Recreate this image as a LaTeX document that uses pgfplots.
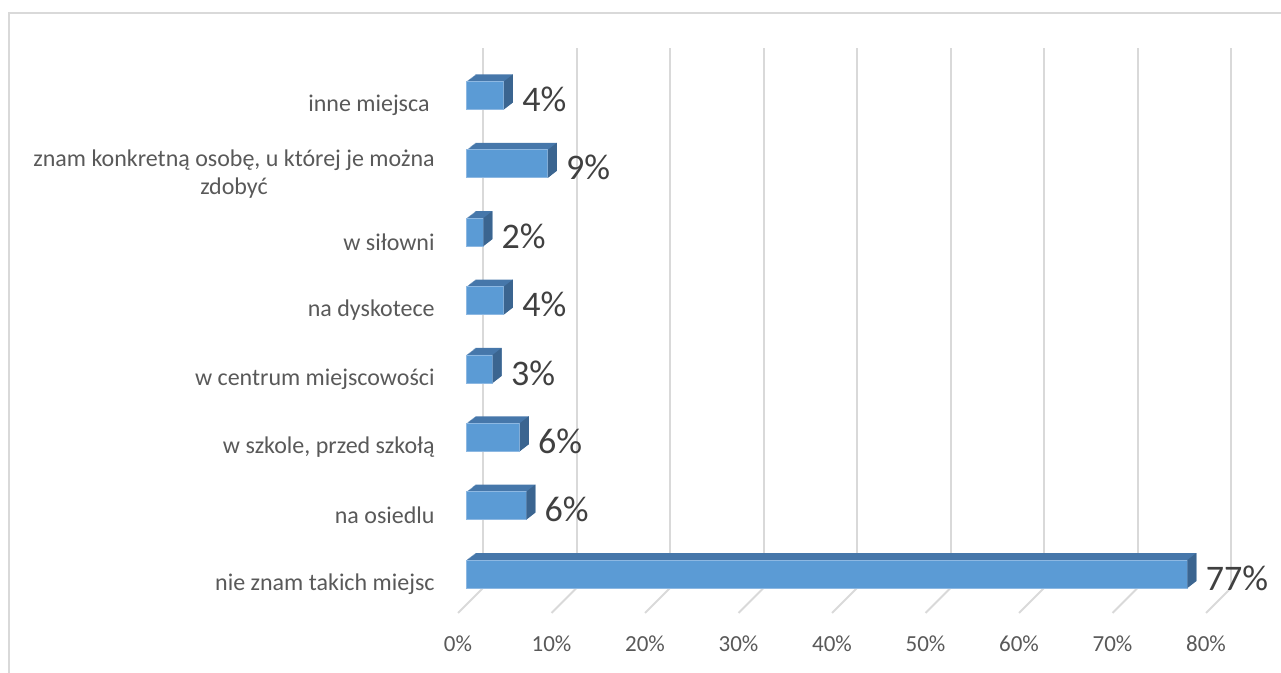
\documentclass[border=0pt]{standalone}
\usepackage{pgfplots}
\pgfplotsset{compat=1.18}
\usepackage{pgfplotstable}
\usepackage{fontspec}
\setmainfont{Carlito}

\definecolor{gridgray}{HTML}{D9D9D9}
\definecolor{labelgray}{HTML}{595959}
\definecolor{valgray}{HTML}{404040}
\definecolor{frontblue}{HTML}{5B9BD5}
\definecolor{topblue}{HTML}{4677AA}
\definecolor{sideblue}{HTML}{3B6590}
\definecolor{edgeblue}{HTML}{8DB8E2}

% v = share in %, k = category position (0 = bottom)
\pgfplotstableread{
v k
77.1 0
6.4 1
5.7 2
2.8 3
4.0 4
1.8 5
8.7 6
4.0 7
}\bardata

% right face of a bar, drawn at the end of the front face
\pgfdeclareplotmark{barside}{%
  \pgfpathmoveto{\pgfpoint{0pt}{-7pt}}%
  \pgfpathlineto{\pgfpoint{0pt}{7pt}}%
  \pgfpathlineto{\pgfpoint{4.5pt}{10.5pt}}%
  \pgfpathlineto{\pgfpoint{4.5pt}{-3.5pt}}%
  \pgfpathclose\pgfusepathqfill}
% floor line of the 3d back wall
\pgfdeclareplotmark{floorline}{%
  \pgfpathmoveto{\pgfpointorigin}%
  \pgfpathlineto{\pgfpoint{-12.5pt}{-12.5pt}}%
  \pgfusepathqstroke}

\begin{document}
\begin{tikzpicture}
\path[use as bounding box] (0,0) rectangle (640.5pt,336.5pt);
\draw[gridgray, line width=1pt] (4.25pt,-5pt) -- (4.25pt,330pt) -- (645pt,330pt);

% back wall with the grid
\begin{axis}[
    at={(241.5pt,42.5pt)}, anchor=south west,
    scale only axis, width=374pt, height=270pt,
    xmin=0, xmax=80, ymin=0, ymax=1,
    clip=false,
    axis line style={draw=none}, tick style={draw=none},
    xtick={0,10,...,80}, ytick=\empty,
    xticklabels={0\%,10\%,20\%,30\%,40\%,50\%,60\%,70\%,80\%},
    xticklabel style={anchor=center, xshift=-12.5pt, yshift=-28pt,
      font=\fontsize{11.5}{13}\selectfont, text=labelgray},
    xmajorgrids, major grid style={gridgray, line width=1pt},
  ]
\addplot[only marks, mark=floorline, mark options={draw=gridgray, line width=1pt}]
  coordinates {(0,0) (10,0) (20,0) (30,0) (40,0) (50,0) (60,0) (70,0) (80,0)};
\end{axis}

% bars
\begin{axis}[
    at={(233.25pt,32.4pt)}, anchor=south west,
    scale only axis, width=374pt, height=273.44pt,
    xmin=0, xmax=80, ymin=-0.5, ymax=7.5,
    clip=false,
    axis line style={draw=none}, tick style={draw=none},
    xtick=\empty, ytick={0,...,7},
    yticklabels={nie znam takich miejsc, na osiedlu, {w szkole, przed szkołą},
      w centrum miejscowości, na dyskotece, w siłowni,
      {znam konkretną osobę, u której je można\\zdobyć}, inne miejsca\hspace{2.5pt}},
    yticklabel style={anchor=east, align=center, inner sep=0pt,
      xshift=-15.75pt, yshift=-5pt,
      font=\fontsize{12}{14}\selectfont, text=labelgray},
    bar width=14pt,
  ]
% top face: the front face swept back along the depth
\pgfplotsinvokeforeach{1,...,9}{
  \addplot[xbar, bar shift=0pt, fill=topblue, draw=none,
    xshift=#1*0.5pt, yshift=#1*0.3889pt] table[x=v, y=k] {\bardata};
}
\addplot[only marks, mark=barside, mark options={fill=sideblue, draw=none}]
  table[x=v, y=k] {\bardata};
\addplot[xbar, bar shift=0pt, fill=frontblue, draw=edgeblue, line width=0.4pt,
    point meta=x,
    nodes near coords={\pgfmathprintnumber[assume math mode=true, fixed, precision=0]{\pgfplotspointmeta}\%},
    every node near coord/.append style={anchor=west, inner sep=0pt,
      xshift=9pt, yshift=-2pt, text=valgray,
      font=\fontsize{18}{20}\selectfont},
  ] table[x=v, y=k] {\bardata};
\end{axis}
\end{tikzpicture}
\end{document}
